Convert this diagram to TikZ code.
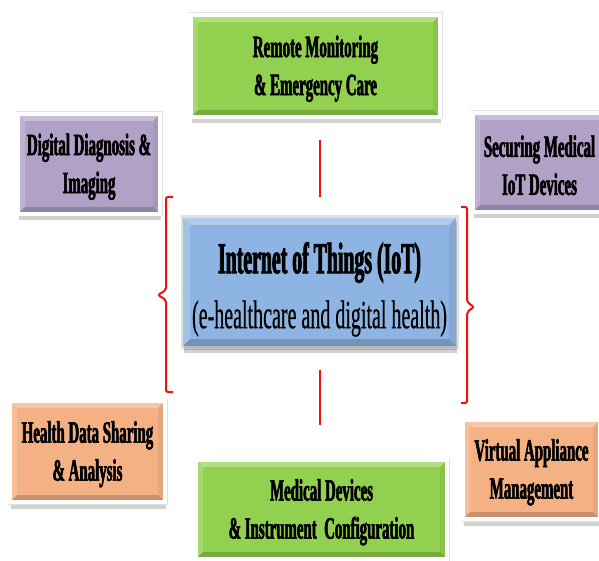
\documentclass[tikz,border=0pt]{standalone}
\usepackage{fontspec}
\usetikzlibrary{shadows}

\newfontfamily\boxfont{Liberation Serif}[FakeStretch=0.48, FakeBold=1.8]
\newfontfamily\hubfont{Liberation Serif}[FakeStretch=0.45, FakeBold=1.8]
\newfontfamily\subfont{Liberation Serif}[FakeStretch=0.5, FakeBold=0.4]

\definecolor{topicgreen}{HTML}{92D050}
\definecolor{topicpurple}{HTML}{B2A1C7}
\definecolor{topicorange}{HTML}{F4B183}
\definecolor{hubblue}{HTML}{8DB4E2}
\definecolor{linkred}{HTML}{F01010}

\tikzset{
  bevel/.style={path picture={
    \path (path picture bounding box.north west) coordinate (bnw)
          (path picture bounding box.north east) coordinate (bne)
          (path picture bounding box.south east) coordinate (bse)
          (path picture bounding box.south west) coordinate (bsw)
          ([shift={(7pt,-7pt)}]path picture bounding box.north west) coordinate (inw)
          ([shift={(-7pt,-7pt)}]path picture bounding box.north east) coordinate (ine)
          ([shift={(-7pt,7pt)}]path picture bounding box.south east) coordinate (ise)
          ([shift={(7pt,7pt)}]path picture bounding box.south west) coordinate (isw);
    \fill[white, opacity=.30] (bnw) -- (bne) -- (ine) -- (inw) -- cycle;
    \fill[white, opacity=.18] (bnw) -- (inw) -- (isw) -- (bsw) -- cycle;
    \fill[black, opacity=.06] (bne) -- (ine) -- (ise) -- (bse) -- cycle;
    \fill[black, opacity=.18] (bsw) -- (isw) -- (ise) -- (bse) -- cycle;
  }}
}

\begin{document}
\begin{tikzpicture}[x=1pt,y=-1pt,
    topic/.style={draw=white, line width=4pt, fill=#1, bevel,
                  drop shadow={shadow xshift=1pt, shadow yshift=-6.5pt,
                               opacity=.3, fill=black!60},
                  preaction={draw=black!12, line width=5pt},
                  align=center, inner sep=0pt,
                  font=\boxfont\bfseries\fontsize{31}{38}\selectfont},
    link/.style={draw=linkred, line width=2pt}]

  \useasboundingbox (0,0) rectangle (599,561);

  % topics round the hub
  \node[topic=topicgreen, minimum width=249pt, minimum height=102pt]
       (remote) at (315.5,66) {\rule{0pt}{27pt}Remote Monitoring\\\& Emergency Care};
  \node[topic=topicpurple, minimum width=142pt, minimum height=100pt]
       (diag) at (89,164) {\rule{0pt}{27pt}Digital Diagnosis \&\\Imaging};
  \node[topic=topicpurple, minimum width=133pt, minimum height=99pt]
       (secure) at (539.5,162.5) {\rule{0pt}{27pt}Securing Medical\\IoT Devices};
  \node[topic=topicorange, minimum width=155pt, minimum height=101pt]
       (share) at (87.5,451.5) {\rule{0pt}{27pt}Health Data Sharing\\\& Analysis};
  \node[topic=topicgreen, minimum width=251pt, minimum height=99pt]
       (devices) at (321.5,509.5) {\rule{0pt}{27pt}Medical Devices\\\& Instrument\ \ Configuration};
  \node[topic=topicorange, minimum width=137pt, minimum height=99pt]
       (virtual) at (531.5,469.5) {\rule{0pt}{27pt}Virtual Appliance\\Management};

  % hub
  \node[topic=hubblue, draw=none, preaction={draw=none},
        drop shadow={shadow xshift=1pt, shadow yshift=-4pt, opacity=.3, fill=black!60},
        minimum width=273pt, minimum height=128pt,
        font=\hubfont\bfseries\fontsize{44}{55}\selectfont]
       (iot) at (319.5,282)
       {\rule{0pt}{46pt}Internet of Things (IoT)\\{\subfont\mdseries\fontsize{40}{55}\selectfont (e-healthcare and digital health)}};

  % red links and brackets
  \coordinate (uptop) at (320,140);
  \coordinate (upbot) at (320,197);
  \coordinate (downtop) at (320,370);
  \coordinate (downbot) at (320,425);
  \draw[link] (uptop) -- (upbot);
  \draw[link] (downtop) -- (downbot);

  \draw[link, rounded corners=2pt]
       (173,197) -- (166,197) -- (166,290) -- (158,295) -- (166,300)
       -- (166,392) -- (173,392);
  \draw[link, rounded corners=2pt]
       (461,207) -- (467,207) -- (467,302) -- (474,307) -- (467,312)
       -- (467,403) -- (461,403);

\end{tikzpicture}
\end{document}
